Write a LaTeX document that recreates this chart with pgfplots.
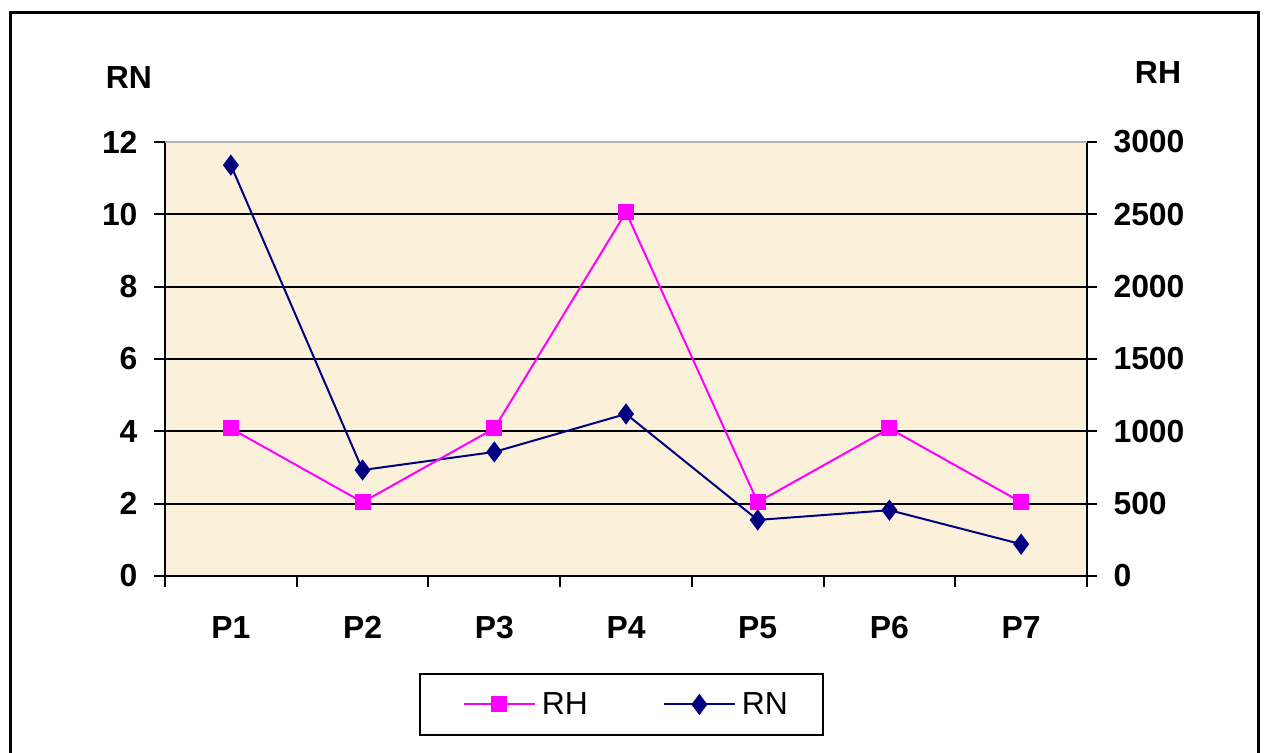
\documentclass[border=0pt]{standalone}
\usepackage{fontspec}
\setmainfont{Liberation Sans}
\usepackage{pgfplots}
\pgfplotsset{compat=1.18}
\definecolor{plotbg}{RGB}{251,241,218}
\definecolor{rhcol}{RGB}{255,0,255}
\definecolor{rncol}{RGB}{0,0,128}
\newcommand{\bigfont}{\fontsize{32}{38}\selectfont}

\begin{document}
\begin{tikzpicture}[x=1bp,y=1bp]
\pgfplotsset{
  common/.style={
    at={(165bp,177bp)}, anchor=south west, scale only axis,
    width=922bp, height=434bp,
    xmin=-0.5, xmax=6.5,
    tick label style={font=\bigfont\bfseries},
    /pgf/number format/assume math mode=true,
    /pgf/number format/1000 sep={},
    axis line style={line width=2bp},
    tick style={line width=2bp, black},
    major tick length=11bp,
    clip=false,
  }
}
% left axis: RN
\begin{axis}[common,
  axis background/.style={fill=plotbg},
  axis x line*=bottom, axis y line*=left,
  ymin=0, ymax=12, ytick={0,2,...,12},
  ymajorgrids, grid style={black, line width=2bp},
  xtick={0,...,6}, xticklabels={P1,P2,P3,P4,P5,P6,P7},
  major x tick style={draw=none},
  minor xtick={-0.5,0.5,...,6.5},
  minor tick length=11bp,
  minor x tick style={line width=2bp, black},
  tick align=outside,
  xticklabel style={yshift=-26bp},
  yticklabel style={xshift=-13bp},
]
\addplot[rncol, line width=2bp, mark=diamond*, mark size=9bp,
  mark options={solid, fill=rncol, draw=rncol}]
  coordinates {(0,11.36) (1,2.93) (2,3.43) (3,4.48) (4,1.55) (5,1.82) (6,0.88)};
\end{axis}
% right axis: RH
\begin{axis}[common,
  axis x line=none, axis y line*=right,
  ymin=0, ymax=3000, ytick={0,500,...,3000},
  tick align=center, major tick length=20bp,
  yticklabel style={xshift=13bp},
  legend style={at={(0.495,-0.296)}, anchor=center, legend columns=2,
    draw=black, line width=1.5bp, font=\bigfont,
    inner xsep=33bp, inner ysep=17bp,
    /tikz/every odd column/.append style={column sep=4bp},
    /tikz/every even column/.append style={column sep=63bp}},
  legend image code/.code={%
    \path (0bp,0bp);
    \draw[mark repeat=2, mark phase=2, #1]
      plot coordinates {(10bp,0bp) (45.5bp,0bp) (81bp,0bp)};},
]
\addplot[rhcol, line width=2bp, mark=square*, mark size=7bp,
  mark options={solid, fill=rhcol, draw=rhcol}]
  coordinates {(0,1020) (1,510) (2,1020) (3,2515) (4,510) (5,1020) (6,510)};
\addlegendentry{RH}
\addlegendimage{rncol, line width=2bp, mark=diamond*, mark size=9bp,
  mark options={solid, fill=rncol, draw=rncol}}
\addlegendentry{RN}
\end{axis}
% top edge of the plot area
\draw[black!30, line width=1.5bp] (165,611) -- (1087,611);
% axis titles
\node[font=\bigfont\bfseries] at (129,675.5) {RN};
\node[font=\bigfont\bfseries] at (1158,680) {RH};
% chart frame
\draw[black, line width=3bp] (10,-10) -- (10,740) -- (1258,740) -- (1258,-10);
\pgfresetboundingbox
\path[use as bounding box] (0,0) rectangle (1265,753);
\end{tikzpicture}
\end{document}
